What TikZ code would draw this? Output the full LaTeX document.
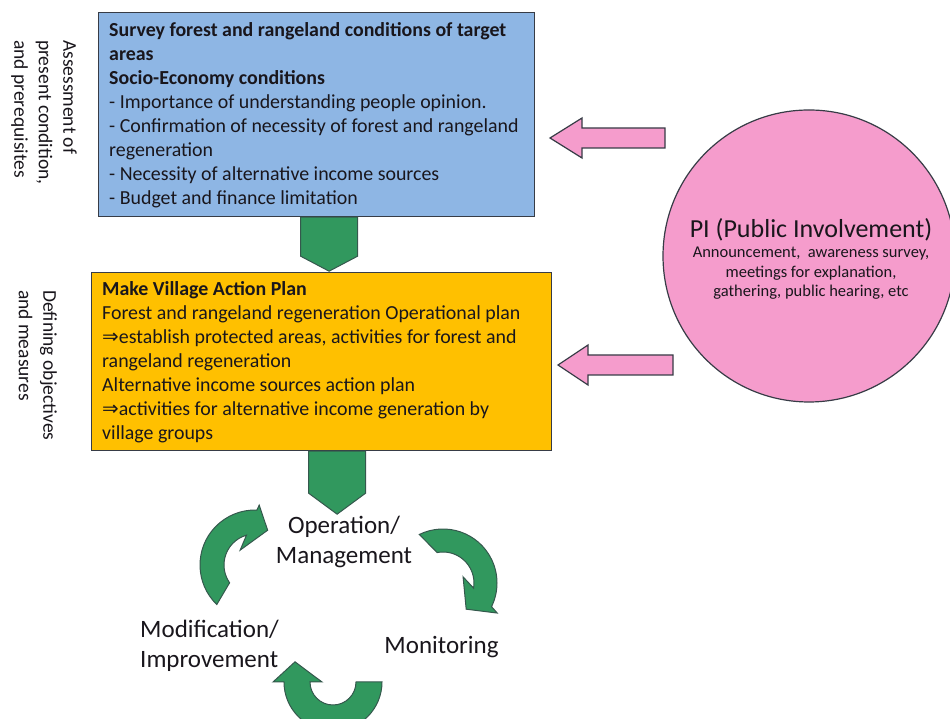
\documentclass[tikz,border=0pt]{standalone}
\usepackage{fontspec}
\setmainfont{Carlito}
\newfontfamily\symfont{DejaVu Sans}
\usetikzlibrary{calc}

\definecolor{boxblue}{RGB}{142,182,228}
\definecolor{boxgold}{RGB}{255,192,0}
\definecolor{cyclegreen}{RGB}{49,152,94}
\definecolor{pipink}{RGB}{245,156,204}
\definecolor{edgegray}{RGB}{55,60,70}
\definecolor{inkdark}{RGB}{25,22,28}

\begin{document}
\begin{tikzpicture}[x=1pt,y=1pt,
  panel/.style={draw=edgegray, line width=1.2pt, rectangle, anchor=north west, inner sep=0pt},
  paneltext/.style={anchor=north west, inner sep=0pt, align=left, text=inkdark,
    font=\fontsize{19.9}{24}\selectfont},
  sidelabel/.style={rotate=-90, anchor=north west, inner sep=0pt, align=left,
    text=inkdark, font=\fontsize{19.5}{24.5}\selectfont},
  cyclelabel/.style={inner sep=0pt, align=center, text=inkdark,
    font=\fontsize{25}{30}\selectfont},
  blockarrow/.style={fill=cyclegreen, draw=edgegray!70!cyclegreen, line width=1pt, line join=miter},
  pinkarrow/.style={fill=pipink, draw=edgegray, line width=1.2pt, line join=miter}
]
\useasboundingbox (0,0) rectangle (950,719);
\clip (0,0) rectangle (950,719);

% ---- side captions ----
\node[sidelabel] (assess) at (77,679) {Assessment of\\present condition,\\and prerequisites};
\node[sidelabel] (define) at (57,429) {Defining objectives\\and measures};

% ---- survey panel ----
\node[panel, fill=boxblue, minimum width=436pt, minimum height=204pt] (survey) at (98,707) {};
\node[paneltext] (surveytext) at ($(survey.north west)+(11,-10)$) {%
\textbf{Survey forest and rangeland conditions of target}\\
\textbf{areas}\\
\textbf{Socio-Economy conditions}\\
- Importance of understanding people opinion.\\
- Confirmation of necessity of forest and rangeland\\
regeneration\\
- Necessity of alternative income sources\\
- Budget and finance limitation};

% ---- action plan panel ----
\node[panel, fill=boxgold, minimum width=460pt, minimum height=178pt] (plan) at (91,447) {};
\node[paneltext] (plantext) at ($(plan.north west)+(11,-9)$) {%
\textbf{Make Village Action Plan}\\
Forest and rangeland regeneration Operational plan\\
{\symfont ⇒}establish protected areas, activities for forest and\\
rangeland regeneration\\
Alternative income sources action plan\\
{\symfont ⇒}activities for alternative income generation by\\
village groups};

% ---- downward block arrows ----
\draw[blockarrow] ($(survey.south)+(-16,0)$) -- ($(survey.south)+(41,0)$)
  -- ($(survey.south)+(41,-39)$) -- ($(survey.south)+(12.5,-54)$)
  -- ($(survey.south)+(-16,-39)$) -- cycle;
\draw[blockarrow] ($(plan.south)+(-13,0)$) -- ($(plan.south)+(44,0)$)
  -- ($(plan.south)+(44,-42)$) -- ($(plan.south)+(15.5,-63)$)
  -- ($(plan.south)+(-13,-42)$) -- cycle;

% ---- public involvement ----
\node[circle, fill=pipink, draw=edgegray, line width=1.2pt, minimum size=292pt,
  inner sep=0pt] (pi) at (809,463) {};
\node[inner sep=0pt, align=center, text=inkdark, font=\fontsize{16.5}{19.5}\selectfont]
  (pitext) at ($(pi.center)+(2,-3)$) {{\fontsize{26}{26}\selectfont PI (Public Involvement)}\\[0.5pt]
  Announcement,\ \ awareness survey,\\meetings for explanation,\\gathering, public hearing, etc};

\draw[pinkarrow] (550,581) -- (582,601) -- (582,591) -- (665,591)
  -- (665,571) -- (582,571) -- (582,561) -- cycle;
\draw[pinkarrow] (558,354) -- (588,374) -- (588,364) -- (673,364)
  -- (673,344) -- (588,344) -- (588,334) -- cycle;

% ---- management cycle ----
\node[cyclelabel] (oper) at (344,177) {Operation/\\Management};
\node[cyclelabel] (moni) at (441.5,72) {Monitoring};
\node[cyclelabel, anchor=west, align=left] (modi) at (140,73) {Modification/\\Improvement};

\begin{scope}[shift={(255,154)}]
  \draw[blockarrow] (226:55) arc[start angle=226, end angle=88, radius=55]
    -- (86:60) -- (70:37) -- (135:21) -- (106:31)
    arc[start angle=106, end angle=215, radius=31] -- cycle;
\end{scope}
\begin{scope}[shift={(443,136)}]
  \draw[blockarrow] (116:54) arc[start angle=116, end angle=-26, radius=54]
    -- (-29:62) -- (-48.5:35) -- (17:21) -- (-9.5:31)
    arc[start angle=-9.5, end angle=101, radius=31] -- cycle;
\end{scope}
\begin{scope}[shift={(333,37)}]
  \draw[blockarrow] (0:49) arc[start angle=0, end angle=-180, radius=49]
    -- (180:60) -- (152:43) -- (180:11) -- (180:23)
    arc[start angle=180, end angle=360, radius=23] -- cycle;
\end{scope}
\end{tikzpicture}
\end{document}
